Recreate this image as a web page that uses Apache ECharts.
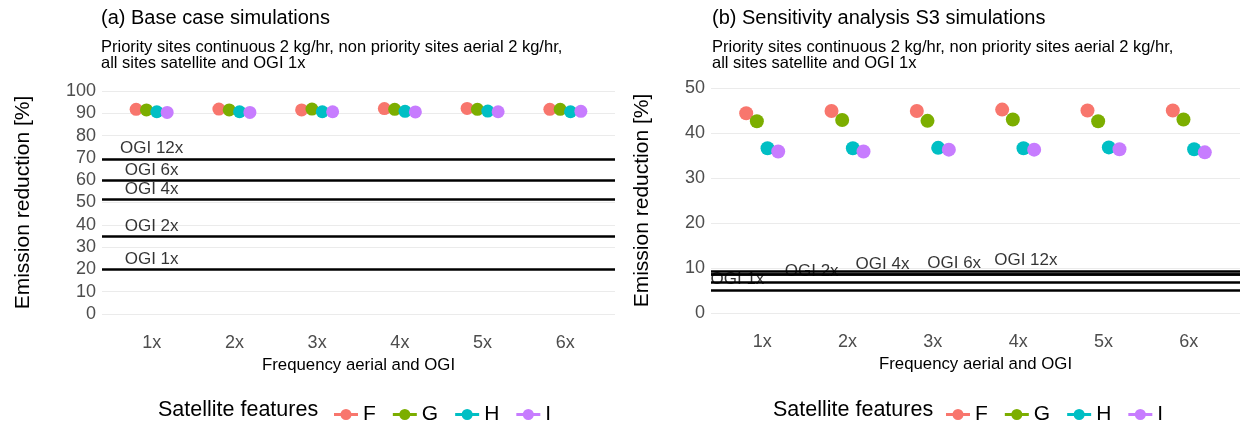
<!DOCTYPE html>
<html>
<head>
<meta charset="utf-8">
<script src="https://cdn.jsdelivr.net/npm/echarts@6/dist/echarts.min.js"></script>
<style>
  html, body { margin: 0; padding: 0; background: #fff; }
  #chart { width: 1241px; height: 426px; }
</style>
</head>
<body>
<div id="chart"></div>
<script>
// categories / series
const categories = ['1x', '2x', '3x', '4x', '5x', '6x'];
const features = ['F', 'G', 'H', 'I'];
const colors = ['#F8766D', '#7CAE00', '#00BFC4', '#C77CFF'];

// (a) base case
const baseF = [91.8, 91.9, 91.5, 92.1, 92.2, 91.8];
const baseG = [91.5, 91.5, 91.9, 91.8, 91.8, 91.8];
const baseH = [90.7, 90.7, 90.7, 90.9, 91.0, 90.7];
const baseI = [90.4, 90.4, 90.7, 90.6, 90.7, 90.9];

// (b) sensitivity S3
const s3F = [44.4, 44.9, 44.9, 45.2, 45.0, 45.0];
const s3G = [42.6, 42.9, 42.7, 43.0, 42.6, 43.0];
const s3H = [36.6, 36.6, 36.7, 36.6, 36.8, 36.4];
const s3I = [35.9, 35.9, 36.3, 36.3, 36.4, 35.7];

// OGI reference lines
const ogiNames = ['OGI 1x', 'OGI 2x', 'OGI 4x', 'OGI 6x', 'OGI 12x'];
const baseOgi = [20.0, 34.7, 51.4, 59.8, 69.5];
const baseOgiLabelX = [1, 1, 1, 1, 1];
const s3Ogi = [5.1, 6.9, 8.55, 8.65, 9.35];
const s3OgiLabelX = [0.71, 1.58, 2.41, 3.25, 4.09];

// ticks
const baseTicks = { min: 0, max: 100, interval: 10 };
const s3Ticks = { min: 0, max: 50, interval: 10 };

const FONT = '"Liberation Sans", Arial, sans-serif';
const dodge = [-0.1875, -0.0625, 0.0625, 0.1875];

function pointSeries(values, k, axis, size) {
  return {
    name: features[k],
    type: 'scatter',
    xAxisIndex: axis,
    yAxisIndex: axis,
    symbolSize: size,
    itemStyle: { color: colors[k], opacity: 1 },
    data: values.map((v, i) => [i + 1 + dodge[k], v]),
    z: 3 + k,
  };
}

function ogiSeries(lines, labelX, axis) {
  return {
    name: 'OGI',
    type: 'scatter',
    xAxisIndex: axis,
    yAxisIndex: axis,
    symbolSize: 0,
    silent: true,
    data: lines.map((v, i) => ({ value: [labelX[i], v], name: ogiNames[i] })),
    label: {
      show: true,
      position: 'inside',
      offset: [0, -10.5],
      formatter: p => p.name,
      color: '#000',
      fontSize: 17,
      fontFamily: FONT,
    },
    markLine: {
      silent: true,
      symbol: 'none',
      label: { show: false },
      lineStyle: { color: '#000', width: 2.5, type: 'solid' },
      data: lines.map(v => ({ yAxis: v })),
    },
    z: 2,
  };
}

function xAxis(idx) {
  return {
    type: 'value',
    gridIndex: idx,
    min: 0.4,
    max: 6.6,
    axisLine: { show: false },
    axisTick: { show: false },
    splitLine: { show: false },
    axisLabel: {
      customValues: [1, 2, 3, 4, 5, 6],
      formatter: v => categories[Math.round(v) - 1],
      color: '#4D4D4D',
      fontSize: 18,
      fontFamily: FONT,
      margin: 20,
    },
    name: 'Frequency aerial and OGI',
    nameLocation: 'middle',
    nameGap: 43,
    nameTextStyle: { color: '#000', fontSize: 16.8, fontFamily: FONT },
  };
}

function yAxis(idx, ticks, gap) {
  return {
    type: 'value',
    gridIndex: idx,
    min: ticks.min,
    max: ticks.max,
    interval: ticks.interval,
    axisLine: { show: false },
    axisTick: { show: false },
    splitLine: { lineStyle: { color: '#EBEBEB', width: 1.2 } },
    axisLabel: { color: '#4D4D4D', fontSize: 18, fontFamily: FONT, margin: 6 },
    name: 'Emission reduction [%]',
    nameLocation: 'middle',
    nameRotate: 90,
    nameGap: gap,
    nameTextStyle: { color: '#000', fontSize: 21, fontFamily: FONT },
  };
}

const legendIcon = 'path://M0,3.4L24,3.4L24,6.6L0,6.6Z M12,-0.5A5.5,5.5,0,1,1,11.99,-0.5Z';

function legend(left) {
  return {
    data: features,
    left: left,
    top: 399,
    icon: legendIcon,
    itemWidth: 24,
    itemHeight: 11,
    itemGap: 17,
    textStyle: { color: '#000', fontSize: 21, fontFamily: FONT },
  };
}

function titles(left, main) {
  return [
    { text: main, left: left, top: 3,
      textStyle: { color: '#000', fontSize: 20, fontWeight: 'normal', fontFamily: FONT } },
    { text: 'Priority sites continuous 2 kg/hr, non priority sites aerial 2 kg/hr,\nall sites satellite and OGI 1x',
      left: left, top: 35,
      textStyle: { color: '#000', fontSize: 16.5, lineHeight: 15.5, fontWeight: 'normal', fontFamily: FONT } },
  ];
}

const chart = echarts.init(document.getElementById('chart'));
chart.setOption({
  animation: false,
  backgroundColor: '#fff',
  title: [
    ...titles(96, '(a) Base case simulations'),
    ...titles(707, '(b) Sensitivity analysis S3 simulations'),
    { text: 'Satellite features', left: 153, top: 394,
      textStyle: { color: '#000', fontSize: 21.5, fontWeight: 'normal', fontFamily: FONT } },
    { text: 'Satellite features', left: 768, top: 394,
      textStyle: { color: '#000', fontSize: 21.5, fontWeight: 'normal', fontFamily: FONT } },
  ],
  legend: [legend(329), legend(941)],
  grid: [
    { left: 102, top: 91, width: 513, height: 223 },
    { left: 711, top: 88, width: 529, height: 225 },
  ],
  xAxis: [xAxis(0), xAxis(1)],
  yAxis: [yAxis(0, baseTicks, 68), yAxis(1, s3Ticks, 58)],
  series: [
    ogiSeries(baseOgi, baseOgiLabelX, 0),
    pointSeries(baseF, 0, 0, 13),
    pointSeries(baseG, 1, 0, 13),
    pointSeries(baseH, 2, 0, 13),
    pointSeries(baseI, 3, 0, 13),
    ogiSeries(s3Ogi, s3OgiLabelX, 1),
    pointSeries(s3F, 0, 1, 14),
    pointSeries(s3G, 1, 1, 14),
    pointSeries(s3H, 2, 1, 14),
    pointSeries(s3I, 3, 1, 14),
  ],
});
</script>
</body>
</html>
